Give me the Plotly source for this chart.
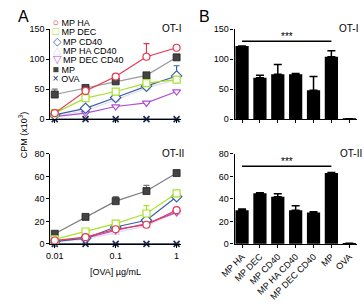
import plotly.graph_objects as go

# ---------------- data ----------------
conc = [0.01, 0.032, 0.1, 0.32, 1]
conc_ticks = [0.01, 0.1, 1]
conc_ticklabels = ["0.01", "0.1", "1"]

series_names = ["MP HA", "MP DEC", "MP CD40", "MP HA CD40", "MP DEC CD40", "MP", "OVA"]

# OT-I (panel A top)
ot1_mp_ha = [10, 47, 71, 104, 119]
ot1_mp_ha_err = [0, 0, 0, 22, 3]
ot1_mp_dec = [10, 35, 46, 60, 66]
ot1_mp_dec_err = [0, 0, 0, 0, 0]
ot1_mp_cd40 = [7, 18, 36, 55, 72]
ot1_mp_cd40_err = [0, 0, 0, 0, 17]
ot1_mp_ha_cd40 = [5, 14, 32, 52, 66]
ot1_mp_ha_cd40_err = [0, 0, 0, 0, 0]
ot1_mp_dec_cd40 = [4, 10, 21, 27, 46]
ot1_mp_dec_cd40_err = [0, 0, 0, 0, 0]
ot1_mp = [41, 52, 63, 73, 103]
ot1_mp_err = [9, 0, 0, 0, 0]
ot1_ova = [0, 0, 0, 0, 0]
ot1_ova_err = [0, 0, 0, 0, 0]

# OT-II (panel A bottom)
ot2_mp_ha = [3, 6, 13, 17, 30]
ot2_mp_ha_err = [0, 0, 0, 0, 0]
ot2_mp_dec = [4, 11, 18, 27, 45]
ot2_mp_dec_err = [0, 0, 0, 7, 0]
ot2_mp_cd40 = [2, 5, 15, 21, 42]
ot2_mp_cd40_err = [0, 0, 0, 0, 0]
ot2_mp_ha_cd40 = [2, 4, 10, 16, 28]
ot2_mp_ha_cd40_err = [0, 0, 0, 0, 0]
ot2_mp_dec_cd40 = [3, 5, 12, 18, 28]
ot2_mp_dec_cd40_err = [0, 0, 0, 0, 0]
ot2_mp = [9, 24, 38, 47, 63]
ot2_mp_err = [0, 0, 4, 5, 0]
ot2_ova = [0, 0, 0, 0, 0]
ot2_ova_err = [0, 0, 0, 0, 0]

# panel B bars
bar_groups = ["MP HA", "MP DEC", "MP CD40", "MP HA CD40", "MP DEC CD40", "MP", "OVA"]
bar_ot1 = [122, 69, 75, 75, 48, 104, 0.5]
bar_ot1_err = [0, 4, 16, 1, 23, 10, 0]
bar_ot2 = [30, 45, 42, 30, 28, 63, 0.5]
bar_ot2_err = [1, 0.5, 2.5, 4, 0.5, 0.5, 0]

sig_ot1 = 130
sig_ot2 = 69
sig_from, sig_to = 0, 5

# ---------------- style ----------------
W, H = 364, 304
FONT = "Liberation Sans Narrow, Arial Narrow, Liberation Sans, Arial, sans-serif"

colors = {
    "MP HA": "#E8364F",
    "MP DEC": "#A8E22A",
    "MP CD40": "#3D5FA5",
    "MP HA CD40": "#E2DCEE",
    "MP DEC CD40": "#B150D0",
    "MP": "#444444",
    "OVA": "#1E2B55",
}
line_colors = dict(colors)
line_colors["MP"] = "#9A9A9A"
symbols = {
    "MP HA": "circle",
    "MP DEC": "square",
    "MP CD40": "diamond",
    "MP HA CD40": "triangle-up",
    "MP DEC CD40": "triangle-down",
    "MP": "square",
    "OVA": "x-thin",
}
glyphs = {
    "MP HA": "\u25CB",
    "MP DEC": "\u25A1",
    "MP CD40": "\u25C7",
    "MP HA CD40": "\u25B3",
    "MP DEC CD40": "\u25BD",
    "MP": "\u25A0",
    "OVA": "\u00D7",
}


def px_x(a, b):
    return [a / W, b / W]


def px_y(top, bottom):
    return [1 - bottom / H, 1 - top / H]


fig = go.Figure()

panelA = [
    ("x", "y", [ot1_mp_ha, ot1_mp_dec, ot1_mp_cd40, ot1_mp_ha_cd40, ot1_mp_dec_cd40, ot1_mp, ot1_ova],
     [ot1_mp_ha_err, ot1_mp_dec_err, ot1_mp_cd40_err, ot1_mp_ha_cd40_err, ot1_mp_dec_cd40_err, ot1_mp_err, ot1_ova_err]),
    ("x2", "y2", [ot2_mp_ha, ot2_mp_dec, ot2_mp_cd40, ot2_mp_ha_cd40, ot2_mp_dec_cd40, ot2_mp, ot2_ova],
     [ot2_mp_ha_err, ot2_mp_dec_err, ot2_mp_cd40_err, ot2_mp_ha_cd40_err, ot2_mp_dec_cd40_err, ot2_mp_err, ot2_ova_err]),
]
draw_order = [6, 3, 5, 4, 2, 1, 0]
for xa, ya, vals, errs in panelA:
    for i in draw_order:
        name = series_names[i]
        if name == "OVA":
            marker = dict(symbol="x-thin", size=6, color=colors[name],
                          line=dict(width=1.6, color=colors[name]))
        elif name == "MP":
            marker = dict(symbol="square", size=7, color=colors[name],
                          line=dict(width=0.8, color="#222222"))
        else:
            marker = dict(symbol=symbols[name], size=7 if name != "MP CD40" else 8,
                          color="white", line=dict(width=1.2, color=colors[name]))
        lc = line_colors[name]
        if name == "MP" and ya == "y2":
            lc = "#7C7C7C"
        fig.add_trace(go.Scatter(
            x=conc, y=vals[i], name=name, mode="lines+markers",
            xaxis=xa, yaxis=ya, cliponaxis=False, showlegend=False,
            line=dict(color=lc, width=1.2), marker=marker,
            error_y=dict(type="data", symmetric=False, array=errs[i],
                         arrayminus=[0] * len(errs[i]),
                         color=colors[name] if name != "MP" else "#777777",
                         thickness=1.2, width=3),
        ))

for xa, ya, vals, errs in [("x3", "y3", bar_ot1, bar_ot1_err), ("x4", "y4", bar_ot2, bar_ot2_err)]:
    fig.add_trace(go.Bar(
        x=bar_groups, y=vals, xaxis=xa, yaxis=ya, width=0.74, showlegend=False,
        marker=dict(color="black", line=dict(width=0)), cliponaxis=False,
        error_y=dict(type="data", symmetric=False, array=errs,
                     arrayminus=[0] * len(errs), color="black", thickness=1.5, width=4),
    ))

axis_common = dict(showline=True, linecolor="black", linewidth=1.2, ticks="outside",
                   ticklen=3, tickwidth=1.2, tickcolor="black", showgrid=False, zeroline=False,
                   tickfont=dict(family=FONT, size=9, color="black"))

xA = px_x(37, 173)
xB = px_x(229, 357)
yTop = px_y(25, 118)
yBot = px_y(154, 247)

fig.update_layout(
    width=W, height=H, margin=dict(l=0, r=0, t=0, b=0),
    paper_bgcolor="white", plot_bgcolor="white", showlegend=False,
    font=dict(family=FONT, size=9, color="black"),
    xaxis=dict(domain=xA, type="log", range=[-2.07, 0.07], tickvals=conc_ticks,
               showticklabels=False, anchor="y", **axis_common),
    yaxis=dict(domain=yTop, range=[0, 150], tickvals=[0, 50, 100, 150], anchor="x", **axis_common),
    xaxis2=dict(domain=xA, type="log", range=[-2.07, 0.07], tickvals=conc_ticks,
                ticktext=conc_ticklabels, anchor="y2", **axis_common),
    yaxis2=dict(domain=yBot, range=[0, 80], tickvals=[0, 20, 40, 60, 80], anchor="x2", **axis_common),
    xaxis3=dict(domain=xB, type="category", range=[-0.42, 6.45], showticklabels=False,
                anchor="y3", **axis_common),
    yaxis3=dict(domain=yTop, range=[0, 150], tickvals=[0, 50, 100, 150], anchor="x3", **axis_common),
    xaxis4=dict(domain=xB, type="category", range=[-0.42, 6.45], tickangle=-45,
                anchor="y4", **axis_common),
    yaxis4=dict(domain=yBot, range=[0, 80], tickvals=[0, 20, 40, 60, 80], anchor="x4", **axis_common),
)

# significance lines
for xa, ya, yv in [("x3", "y3", sig_ot1), ("x4", "y4", sig_ot2)]:
    fig.add_shape(type="line", xref=xa, yref=ya, x0=sig_from, x1=sig_to, y0=yv, y1=yv,
                  line=dict(color="black", width=1.5))
    fig.add_annotation(xref=xa, yref=ya, x=(sig_from + sig_to) / 2, y=yv, text="***",
                       showarrow=False, yanchor="bottom", yshift=-2, borderpad=0,
                       font=dict(family=FONT, size=10, color="black"))


def px_ann(x, y, text, size=9, xanchor="center", yanchor="middle", color="black", **kw):
    fig.add_annotation(xref="paper", yref="paper", x=x / W, y=1 - y / H, text=text,
                       showarrow=False, xanchor=xanchor, yanchor=yanchor, borderpad=0,
                       font=dict(family=FONT, size=size, color=color), **kw)


# panel letters
px_ann(9, 12, "A", size=16)
px_ann(198, 12, "B", size=16)
# sub-panel titles
for xx, yy, t in [(174, 24, "OT-I"), (177, 154, "OT-II"), (359, 24, "OT-I"), (363, 154, "OT-II")]:
    px_ann(xx, yy, t, size=10, xanchor="right")
# axis titles
px_ann(8, 134, "CPM (x10<sup>3</sup>)", size=9, textangle=-90)
px_ann(105, 276, "[OVA] µg/mL", size=9)

# legend (panel A): one block, each line = coloured symbol + name
legend_lines = "<br>".join(
    f"\u200a<span style='color:{colors[n]};font-size:10.5px'>{glyphs[n]}</span>"
    f"<span style='font-size:9px'> {n}</span>" for n in series_names)
px_ann(38, 47, legend_lines, size=7.2, xanchor="left", align="left")

fig.write_html("out.html", config={"displayModeBar": False},
               post_script="document.body.style.margin='0';document.body.style.overflow='hidden';")
